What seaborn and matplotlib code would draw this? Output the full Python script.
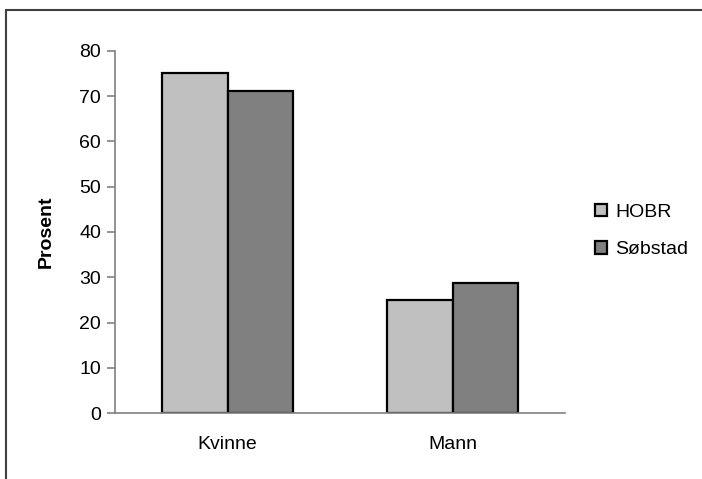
import matplotlib
matplotlib.use("Agg")
import matplotlib.pyplot as plt
import seaborn as sns
import pandas as pd
from matplotlib.patches import Rectangle

categories = ["Kvinne", "Mann"]
series = ["HOBR", "Søbstad"]
hobr = [75, 25]
sobstad = [71, 28.8]
yticks = [0, 10, 20, 30, 40, 50, 60, 70, 80]

df = pd.DataFrame({
    "Kjønn": categories * 2,
    "Serie": [series[0]] * 2 + [series[1]] * 2,
    "Prosent": hobr + sobstad,
})

sns.set_style("white")
plt.rcParams["font.family"] = ["Liberation Sans", "DejaVu Sans"]
plt.rcParams["text.color"] = "black"
plt.rcParams["axes.labelcolor"] = "black"
plt.rcParams["xtick.color"] = "black"
plt.rcParams["ytick.color"] = "black"

FS = 14

fig = plt.figure(figsize=(7.02, 4.79), dpi=100)
ax = fig.add_axes([115/702, 1-413.3/479, (565-115)/702, (413.3-50.7)/479])

sns.barplot(data=df, x="Kjønn", y="Prosent", hue="Serie", order=categories,
            hue_order=series, palette=["#C0C0C0", "#808080"], width=0.578,
            gap=0, edgecolor="black", linewidth=1.6, ax=ax, legend=True)

ax.set_xlim(-0.5, 1.5)
ax.set_ylim(0, 80)
ax.set_yticks(yticks)
ax.set_yticklabels([str(v) for v in yticks], fontsize=FS)
ax.set_xlabel("")
ax.set_ylabel("Prosent", fontsize=FS, fontweight="bold")
ax.yaxis.set_label_coords(-0.133, 0.5)
ax.set_xticks([0, 1])
ax.set_xticklabels(categories, fontsize=FS)
ax.tick_params(axis="x", which="major", length=0, pad=16)
ax.set_xticks([-0.5, 0.5, 1.5], minor=True)
ax.tick_params(axis="x", which="minor", length=5, color="#808080", width=1.2, direction="out")
ax.tick_params(axis="y", which="major", length=6, color="#808080", width=1.2,
               direction="out", pad=4, left=True, labelcolor="black")
for s in ["top", "right"]:
    ax.spines[s].set_visible(False)
for s in ["left", "bottom"]:
    ax.spines[s].set_color("#808080")
    ax.spines[s].set_linewidth(1.2)

handles, labels = ax.get_legend_handles_labels()
ax.get_legend().remove()
fig.legend(handles, labels, loc="center left", bbox_to_anchor=(579/702, 1-231/479),
           frameon=False, fontsize=FS, handlelength=0.62, handleheight=0.62,
           handletextpad=0.45, labelspacing=1.05, borderpad=0.3)

fig.add_artist(Rectangle((6/702, -0.1), 2, (479-10)/479 + 0.1, transform=fig.transFigure,
                         fill=False, edgecolor="#404040", linewidth=1.5, clip_on=False))

fig.savefig("out.png", dpi=100)
